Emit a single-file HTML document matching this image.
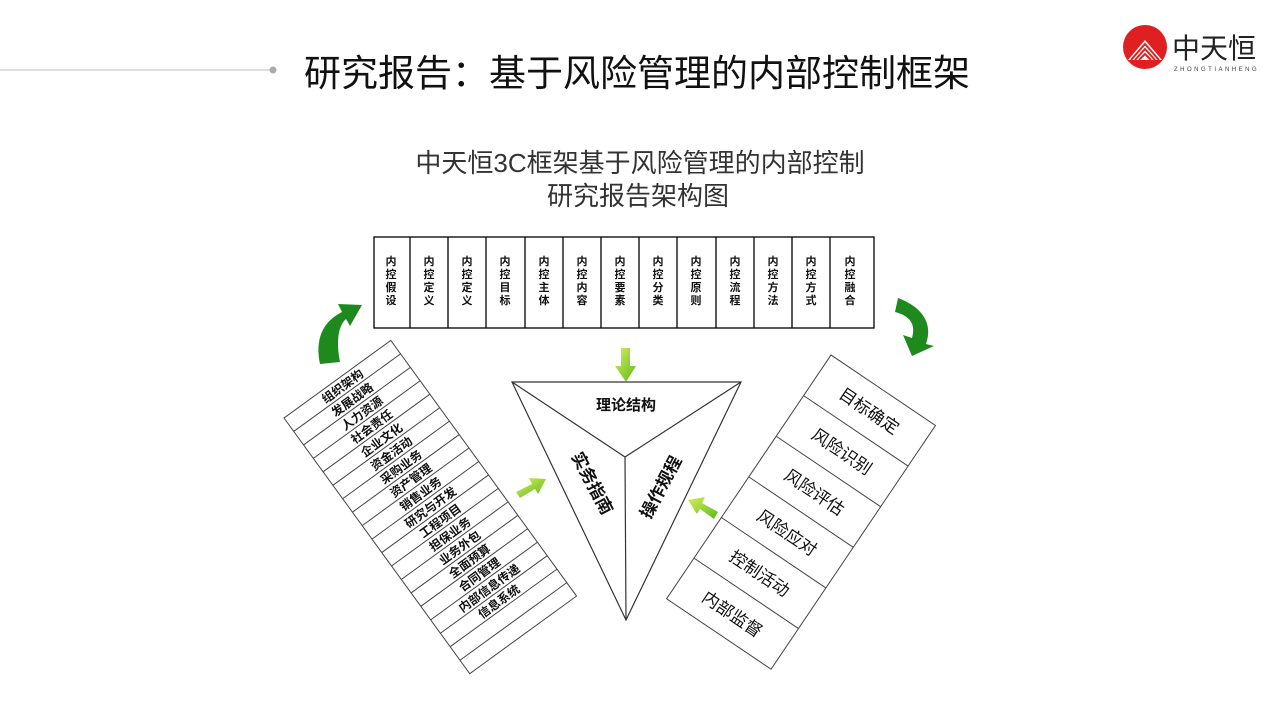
<!DOCTYPE html>
<html><head><meta charset="utf-8"><style>
html,body{margin:0;padding:0;background:#fff;}
svg{display:block;}
text{font-family:"Liberation Sans","Noto Sans CJK SC",sans-serif;}
</style></head><body>
<svg width="1280" height="720" viewBox="0 0 1280 720" xmlns="http://www.w3.org/2000/svg">
<defs>
<linearGradient id="lg" x1="0" y1="0" x2="1" y2="1"><stop offset="0" stop-color="#d8f060"/><stop offset="1" stop-color="#5cb81a"/></linearGradient>
</defs>
<line x1="0" y1="70" x2="272" y2="70" stroke="#bbb" stroke-width="1"/>
<circle cx="273" cy="70" r="3.5" fill="#aaa"/>
<text x="304" y="86" font-size="37" fill="#111">研究报告：基于风险管理的内部控制框架</text>
<circle cx="1145" cy="47" r="22" fill="#e02020"/>
<path d="M1128 60 L1145 40 L1162 60 Z" fill="#fff"/>
<path d="M1131 60 L1145 44 L1159 60 M1135 60 L1145 49 L1155 60 M1139 60 L1145 54 L1151 60" stroke="#e02020" stroke-width="2" fill="none"/>
<text x="1172" y="58" font-size="28" fill="#222">中天恒</text>
<text x="1174" y="71" font-size="6" fill="#444" letter-spacing="2.5">ZHONGTIANHENG</text>
<g fill="#333" text-anchor="middle" font-size="26">
<text x="640" y="172">中天恒3C框架基于风险管理的内部控制</text>
<text x="638" y="205">研究报告架构图</text>
</g>
<g stroke="#000" stroke-width="1.3" fill="none">
<rect x="374" y="237" width="500" height="91"/>
<line x1="410" y1="237" x2="410" y2="328"/><line x1="448" y1="237" x2="448" y2="328"/>
<line x1="486" y1="237" x2="486" y2="328"/><line x1="525" y1="237" x2="525" y2="328"/>
<line x1="563" y1="237" x2="563" y2="328"/><line x1="601" y1="237" x2="601" y2="328"/>
<line x1="639" y1="237" x2="639" y2="328"/><line x1="677" y1="237" x2="677" y2="328"/>
<line x1="716" y1="237" x2="716" y2="328"/><line x1="754" y1="237" x2="754" y2="328"/>
<line x1="792" y1="237" x2="792" y2="328"/><line x1="830" y1="237" x2="830" y2="328"/>
</g>
<g font-size="11" font-weight="bold" fill="#111" text-anchor="middle">
<text x="391" y="265">内</text><text x="391" y="278">控</text><text x="391" y="291">假</text><text x="391" y="304">设</text>
<text x="429" y="265">内</text><text x="429" y="278">控</text><text x="429" y="291">定</text><text x="429" y="304">义</text>
<text x="467" y="265">内</text><text x="467" y="278">控</text><text x="467" y="291">定</text><text x="467" y="304">义</text>
<text x="505" y="265">内</text><text x="505" y="278">控</text><text x="505" y="291">目</text><text x="505" y="304">标</text>
<text x="544" y="265">内</text><text x="544" y="278">控</text><text x="544" y="291">主</text><text x="544" y="304">体</text>
<text x="582" y="265">内</text><text x="582" y="278">控</text><text x="582" y="291">内</text><text x="582" y="304">容</text>
<text x="620" y="265">内</text><text x="620" y="278">控</text><text x="620" y="291">要</text><text x="620" y="304">素</text>
<text x="658" y="265">内</text><text x="658" y="278">控</text><text x="658" y="291">分</text><text x="658" y="304">类</text>
<text x="696" y="265">内</text><text x="696" y="278">控</text><text x="696" y="291">原</text><text x="696" y="304">则</text>
<text x="735" y="265">内</text><text x="735" y="278">控</text><text x="735" y="291">流</text><text x="735" y="304">程</text>
<text x="773" y="265">内</text><text x="773" y="278">控</text><text x="773" y="291">方</text><text x="773" y="304">法</text>
<text x="811" y="265">内</text><text x="811" y="278">控</text><text x="811" y="291">方</text><text x="811" y="304">式</text>
<text x="850" y="265">内</text><text x="850" y="278">控</text><text x="850" y="291">融</text><text x="850" y="304">合</text>
</g>
<g stroke="#333" stroke-width="1.2" fill="none">
<path d="M512 382 L741 382 L626 620 Z"/>
<line x1="512" y1="382" x2="625" y2="457"/><line x1="741" y1="382" x2="625" y2="457"/><line x1="625" y1="457" x2="626" y2="620"/>
</g>
<text x="626" y="410" font-size="15" font-weight="bold" fill="#111" text-anchor="middle">理论结构</text>
<text transform="translate(587,486) rotate(62)" font-size="17" font-weight="bold" fill="#111" text-anchor="middle">实务指南</text>
<text transform="translate(666,490) rotate(-62)" font-size="17" font-weight="bold" fill="#111" text-anchor="middle">操作规程</text>
<g transform="translate(284,418) rotate(-36)">
<rect x="0" y="0" width="132" height="316" fill="none" stroke="#444" stroke-width="1"/>
<g stroke="#444" stroke-width="1">
<line x1="0" y1="16.6" x2="132" y2="16.6"/><line x1="0" y1="33.3" x2="132" y2="33.3"/><line x1="0" y1="49.9" x2="132" y2="49.9"/><line x1="0" y1="66.5" x2="132" y2="66.5"/><line x1="0" y1="83.2" x2="132" y2="83.2"/><line x1="0" y1="99.8" x2="132" y2="99.8"/><line x1="0" y1="116.4" x2="132" y2="116.4"/><line x1="0" y1="133" x2="132" y2="133"/><line x1="0" y1="149.7" x2="132" y2="149.7"/><line x1="0" y1="166.3" x2="132" y2="166.3"/><line x1="0" y1="182.9" x2="132" y2="182.9"/><line x1="0" y1="199.6" x2="132" y2="199.6"/><line x1="0" y1="216.2" x2="132" y2="216.2"/><line x1="0" y1="232.8" x2="132" y2="232.8"/><line x1="0" y1="249.5" x2="132" y2="249.5"/><line x1="0" y1="266.1" x2="132" y2="266.1"/><line x1="0" y1="282.7" x2="132" y2="282.7"/><line x1="0" y1="299.4" x2="132" y2="299.4"/>
</g>
<g font-size="12" font-weight="bold" fill="#111" text-anchor="middle">
<text x="66" y="13">组织架构</text><text x="66" y="29.6">发展战略</text><text x="66" y="46.3">人力资源</text><text x="66" y="62.9">社会责任</text><text x="66" y="79.5">企业文化</text><text x="66" y="96.2">资金活动</text><text x="66" y="112.8">采购业务</text><text x="66" y="129.4">资产管理</text><text x="66" y="146">销售业务</text><text x="66" y="162.7">研究与开发</text><text x="66" y="179.3">工程项目</text><text x="66" y="195.9">担保业务</text><text x="66" y="212.6">业务外包</text><text x="66" y="229.2">全面预算</text><text x="66" y="245.8">合同管理</text><text x="66" y="262.5">内部信息传递</text><text x="66" y="279.1">信息系统</text>
</g>
</g>
<g transform="translate(831,355) rotate(34)">
<rect x="0" y="0" width="126" height="294" fill="none" stroke="#444" stroke-width="1"/>
<g stroke="#444" stroke-width="1">
<line x1="0" y1="49" x2="126" y2="49"/><line x1="0" y1="98" x2="126" y2="98"/><line x1="0" y1="147" x2="126" y2="147"/><line x1="0" y1="196" x2="126" y2="196"/><line x1="0" y1="245" x2="126" y2="245"/>
</g>
<g font-size="17" fill="#111" text-anchor="middle">
<text x="63" y="31">目标确定</text><text x="63" y="80">风险识别</text><text x="63" y="129">风险评估</text><text x="63" y="178">风险应对</text><text x="63" y="227">控制活动</text><text x="63" y="276">内部监督</text>
</g>
</g>
<path d="M320 364 C315 340 322 322 342 312 L338 304 L362 305 L350 326 L346 319 C338 326 336 342 340 362 Z" fill="#1e8a1e"/>
<path d="M898 298 C920 306 934 322 926 344 L934 346 L912 356 L903 335 L912 338 C916 324 910 316 895 312 Z" fill="#1e8a1e"/>
<path d="M621 348 L630 348 L630 366 L636 366 L626 382 L615 366 L621 366 Z" fill="url(#lg)"/>
<path d="M516 492 L532 484 L529 478 L546 479 L538 494 L535 489 L520 498 Z" fill="url(#lg)"/>
<path d="M718 512 L702 503 L705 497 L688 500 L697 514 L700 509 L714 519 Z" fill="url(#lg)"/>
</svg>
</body></html>
